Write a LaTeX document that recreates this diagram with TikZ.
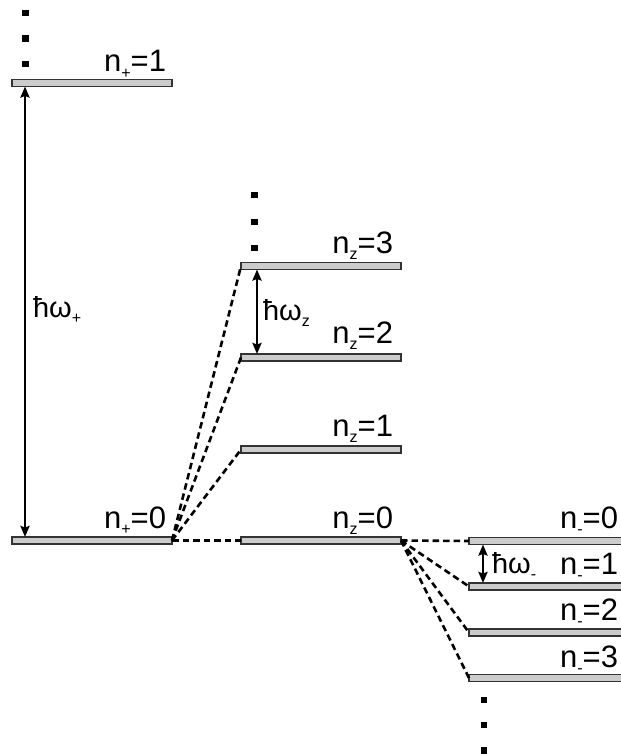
\documentclass[tikz,border=0pt]{standalone}
\usepackage{fontspec}
\setmainfont{Liberation Sans}
\usetikzlibrary{arrows.meta,calc}
\newcommand\lsub[1]{\raisebox{-6bp}{\fontsize{16bp}{16bp}\selectfont #1}}
\tikzset{
  bar/.style={rectangle, draw=black!80, fill=black!20, line width=1.2bp, minimum height=7bp, inner sep=0pt, outer sep=0pt},
  lab/.style={inner sep=0pt, outer sep=0pt, font=\fontsize{31bp}{31bp}\selectfont},
  hlab/.style={inner sep=0pt, outer sep=0pt, font=\fontsize{29bp}{29bp}\selectfont, anchor=base west},
  dotsq/.style={rectangle, fill=black, minimum size=6.5bp, inner sep=0pt},
  conn/.style={line width=2.6bp, dash pattern=on 6.5bp off 4bp},
  dbl/.style={line width=2.3bp, {Stealth[length=11bp,width=9bp,inset=1.5bp]}-{Stealth[length=11bp,width=9bp,inset=1.5bp]}},
}
\begin{document}
\begin{tikzpicture}[x=1bp,y=-1bp]
\useasboundingbox (0,0) rectangle (621,756);
% bars
\node[bar, minimum width=160bp] (p1) at (92,83) {};
\node[bar, minimum width=160bp] (p0) at (92,540.5) {};
\node[bar, minimum width=160bp] (z3) at (321,266) {};
\node[bar, minimum width=160bp] (z2) at (321,357.5) {};
\node[bar, minimum width=160bp] (z1) at (321,449.5) {};
\node[bar, minimum width=160bp] (z0) at (321,540.5) {};
\node[bar, minimum width=160bp] (m0) at (549,541) {};
\node[bar, minimum width=160bp] (m1) at (549,586.5) {};
\node[bar, minimum width=160bp] (m2) at (549,632.5) {};
\node[bar, minimum width=160bp] (m3) at (549,678) {};
% dots
\node[dotsq] (d1) at (25.5,13) {};
\node[dotsq] (d2) at (25.5,38.5) {};
\node[dotsq] (d3) at (25.5,64) {};
\node[dotsq] (e1) at (254.5,195) {};
\node[dotsq] (e2) at (254.5,222) {};
\node[dotsq] (e3) at (254.5,248) {};
\node[dotsq] (f1) at (484,700) {};
\node[dotsq] (f2) at (484,725) {};
\node[dotsq] (f3) at (484,750.5) {};
% labels
\node[lab, anchor=base east] (lp1) at (166,72) {n\lsub{+}=1};
\node[lab, anchor=base east] (lp0) at (166,528) {n\lsub{+}=0};
\node[lab, anchor=base east] (lz3) at (393,253) {n\lsub{z}=3};
\node[lab, anchor=base east] (lz2) at (393,343) {n\lsub{z}=2};
\node[lab, anchor=base east] (lz1) at (393,436) {n\lsub{z}=1};
\node[lab, anchor=base east] (lz0) at (393,528) {n\lsub{z}=0};
\node[lab, anchor=base east] (lm0) at (618,528) {n\lsub{-}=0};
\node[lab, anchor=base east] (lm1) at (618,574) {n\lsub{-}=1};
\node[lab, anchor=base east] (lm2) at (618,620) {n\lsub{-}=2};
\node[lab, anchor=base east] (lm3) at (618,667) {n\lsub{-}=3};
% connectors
\foreach \t in {z3,z2,z1,z0} \draw[conn] (p0.east) -- (\t.west);
\foreach \t in {m0,m1,m2,m3} \draw[conn] (z0.east) -- (\t.west);
% energy arrows
\draw[dbl] ($(p1.south west)+(13,0)$) -- ($(p0.north west)+(13,0)$);
\draw[dbl] ($(z3.south west)+(16,0)$) -- ($(z2.north west)+(16,0)$);
\draw[dbl] ($(m0.south west)+(14,0)$) -- ($(m1.north west)+(14,0)$);
\node[hlab] (hp) at (33,317) {ħω\lsub{+}};
\node[hlab] (hz) at (263,320) {ħω\lsub{z}};
\node[hlab] (hm) at (492,573) {ħω\lsub{-}};
\end{tikzpicture}
\end{document}
